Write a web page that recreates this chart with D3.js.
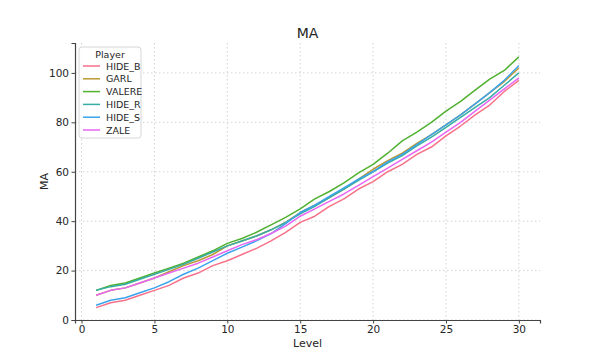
<!DOCTYPE html>
<html>
<head>
<meta charset="utf-8">
<script src="https://cdn.jsdelivr.net/npm/d3@7"></script>
<style>
  body { margin: 0; background: #fff; }
  text { font-family: "DejaVu Sans", sans-serif; fill: #262626; }
</style>
</head>
<body>
<div class="canvas"></div>
<script>
const levels = d3.range(1, 31)
const players = ['HIDE_B', 'GARL', 'VALERE', 'HIDE_R', 'HIDE_S', 'ZALE']
const colors = ['#f77189', '#bb9832', '#50b131', '#36ada4', '#3ba3ec', '#e866f4']

const hideB = [5, 7, 8, 10, 12, 14, 17, 19, 22, 24, 26.5, 29, 32, 35.5, 39.5, 42, 46, 49, 53, 56, 60, 63, 67, 70, 74.5, 78.5, 83, 87, 92.5, 97]
const garl = [10, 12, 13, 15, 17, 19.5, 22, 24, 26.5, 30, 32, 34, 36.5, 39.5, 43.5, 46.5, 49.5, 53, 57, 61, 64.5, 67.5, 71.5, 75, 79, 83, 87.5, 92, 96.5, 102]
const valere = [12, 14, 15, 17, 19, 21, 23, 25.5, 28, 31, 33, 35.5, 38.5, 41.5, 45, 49, 52, 55.5, 59.5, 63, 67.5, 72.5, 76, 80, 84.5, 88.5, 93, 97.5, 101, 106.5]
const hideR = [12, 13.5, 14.5, 16.5, 18.5, 20.5, 22.5, 25, 27.5, 30, 32, 34, 36.5, 39.5, 43, 46, 49.5, 53, 56.5, 60, 63.5, 66.5, 70.5, 74, 78, 82, 86, 90, 95, 100]
const hideS = [6, 8, 9, 11, 13, 15.5, 18.5, 21, 24, 27, 29.5, 32, 35, 39, 43.5, 46.5, 50, 53.5, 57, 60, 64, 67, 71, 75, 79, 83, 87.5, 92, 97, 103]
const zale = [10, 12, 13, 15, 17, 19, 21, 23, 25.5, 28, 30.5, 32.5, 35, 38, 42, 45, 48, 51, 54.5, 58, 61.5, 65, 68.5, 72, 76, 80, 84.5, 89, 93.5, 98]

const xTicks = [0, 5, 10, 15, 20, 25, 30]
const yTicks = [0, 20, 40, 60, 80, 100]

const series = [hideB, garl, valere, hideR, hideS, zale].map((values, i) => ({
  name: players[i],
  color: colors[i],
  values: values.map((v, j) => ({ level: levels[j], ma: v }))
}))

const svg = d3.select('.canvas')
  .append('svg')
  .attr('width', 600)
  .attr('height', 360)

const margin = { top: 43, right: 60, bottom: 40, left: 75 }
const graphWidth = 600 - margin.left - margin.right
const graphHeight = 360 - margin.top - margin.bottom

const graph = svg.append('g')
  .attr('transform', `translate(${margin.left}, ${margin.top})`)

const x = d3.scaleLinear()
  .domain([-0.45, 31.45])
  .range([0, graphWidth])
const y = d3.scaleLinear()
  .domain([0, 112.1])
  .range([graphHeight, 0])

// grid
graph.append('g')
  .selectAll('line')
  .data(xTicks)
  .join('line')
  .attr('x1', d => x(d)).attr('x2', d => x(d))
  .attr('y1', 0).attr('y2', graphHeight)
  .attr('stroke', '#c8c8c8')
  .attr('stroke-width', 0.8)
  .attr('stroke-dasharray', '1.5,2.5')
graph.append('g')
  .selectAll('line')
  .data(yTicks)
  .join('line')
  .attr('x1', 0).attr('x2', graphWidth)
  .attr('y1', d => y(d)).attr('y2', d => y(d))
  .attr('stroke', '#c8c8c8')
  .attr('stroke-width', 0.8)
  .attr('stroke-dasharray', '1.5,2.5')

// lines
const line = d3.line()
  .x(d => x(d.level))
  .y(d => y(d.ma))

graph.append('g')
  .selectAll('path')
  .data(series)
  .join('path')
  .attr('d', d => line(d.values))
  .attr('fill', 'none')
  .attr('stroke', d => d.color)
  .attr('stroke-width', 1.5)
  .attr('stroke-linejoin', 'round')

// axes
const xAxis = d3.axisBottom(x).tickValues(xTicks).tickSize(3.5).tickPadding(2)
const yAxis = d3.axisLeft(y).tickValues(yTicks).tickSize(3.5).tickPadding(2.5)

const xAxisGroup = graph.append('g')
  .attr('transform', `translate(0, ${graphHeight})`)
  .call(xAxis)
const yAxisGroup = graph.append('g').call(yAxis)

;[xAxisGroup, yAxisGroup].forEach(g => {
  g.select('.domain').attr('stroke', '#444').attr('stroke-width', 1.2)
  g.selectAll('.tick line').attr('stroke', '#444').attr('stroke-width', 1)
  g.selectAll('.tick text')
    .attr('font-size', 10.5)
    .attr('font-family', '"DejaVu Sans", sans-serif')
    .attr('fill', '#262626')
})

// title & labels
svg.append('text')
  .attr('x', margin.left + graphWidth / 2)
  .attr('y', 38)
  .attr('text-anchor', 'middle')
  .attr('font-size', 14)
  .text('MA')
svg.append('text')
  .attr('x', margin.left + graphWidth / 2)
  .attr('y', 347)
  .attr('text-anchor', 'middle')
  .attr('font-size', 11)
  .text('Level')
svg.append('text')
  .attr('transform', `translate(48, ${margin.top + graphHeight / 2}) rotate(-90)`)
  .attr('text-anchor', 'middle')
  .attr('font-size', 11)
  .text('MA')

// legend
const legend = svg.append('g')
  .attr('transform', 'translate(79, 47)')
legend.append('rect')
  .attr('width', 62)
  .attr('height', 91)
  .attr('rx', 3)
  .attr('fill', 'rgba(255,255,255,0.85)')
  .attr('stroke', '#d6d6d6')
legend.append('text')
  .attr('x', 31)
  .attr('y', 11)
  .attr('text-anchor', 'middle')
  .attr('font-size', 9.5)
  .text('Player')
const items = legend.selectAll('.item')
  .data(series)
  .join('g')
  .attr('class', 'item')
  .attr('transform', (d, i) => `translate(0, ${19 + i * 12.8})`)
items.append('line')
  .attr('x1', 4).attr('x2', 21)
  .attr('stroke', d => d.color)
  .attr('stroke-width', 1.5)
items.append('text')
  .attr('x', 27)
  .attr('y', 3.5)
  .attr('font-size', 9.5)
  .text(d => d.name)
</script>
</body>
</html>
